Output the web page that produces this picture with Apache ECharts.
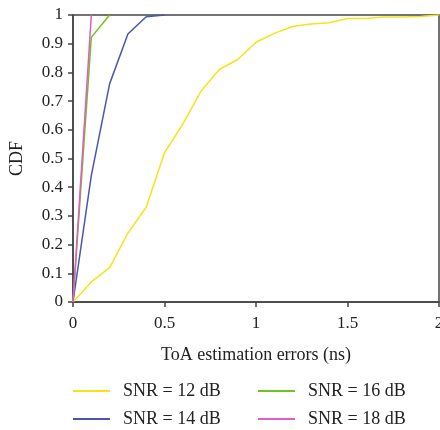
<!DOCTYPE html>
<html>
<head>
<meta charset="utf-8">
<script src="https://cdn.jsdelivr.net/npm/echarts@6/dist/echarts.min.js"></script>
<style>
  html, body { margin: 0; padding: 0; background: #fff; }
  #main { width: 440px; height: 430px; }
</style>
</head>
<body>
<div id="main"></div>
<script>
// ToA errors (ns) vs CDF
const snr12 = [[0, 0], [0.1, 0.07], [0.2, 0.12], [0.3, 0.24], [0.4, 0.33], [0.5, 0.52], [0.6, 0.62],
  [0.7, 0.735], [0.8, 0.81], [0.9, 0.845], [1.0, 0.905], [1.1, 0.936], [1.2, 0.96], [1.3, 0.969],
  [1.4, 0.973], [1.5, 0.988], [1.6, 0.988], [1.7, 0.993], [1.8, 0.993], [1.9, 0.995], [2.0, 1]];
const snr14 = [[0, 0], [0.1, 0.44], [0.2, 0.76], [0.3, 0.934], [0.4, 0.994], [0.5, 1]];
const snr16 = [[0, 0], [0.1, 0.922], [0.2, 1]];
const snr18 = [[0, 0], [0.1, 1]];
const names = ["SNR = 12 dB", "SNR = 14 dB", "SNR = 16 dB", "SNR = 18 dB"];
const colors = ["#f7e31a", "#4b55b3", "#6ec41c", "#de5fc4"];

const font = "'Liberation Serif', 'DejaVu Serif', serif";
const chart = echarts.init(document.getElementById("main"));

function line(name, data, color) {
    return {
        name: name,
        type: "line",
        data: data,
        symbol: "none",
        color: color,
        lineStyle: { width: 1.5, color: color }
    };
}

// one legend per entry, placed in a 2x2 layout
const legendPos = [[73, 382], [73, 410], [258, 382], [258, 410]];
const legends = names.map((n, i) => ({
    data: [n], left: legendPos[i][0], top: legendPos[i][1], padding: 0,
    itemWidth: 37, itemHeight: 2, icon: "rect",
    textStyle: { fontFamily: font, fontSize: 18, color: "#222", padding: [0, 0, 0, 8] }
}));

chart.setOption({
    animation: false,
    grid: {
        left: 73, right: 1, top: 15, bottom: 128,
        outerBoundsMode: "none", containLabel: false,
        show: true, borderColor: "#444", borderWidth: 1.5, backgroundColor: "transparent"
    },
    xAxis: {
        type: "value", min: 0, max: 2, interval: 0.5,
        name: "ToA estimation errors (ns)", nameLocation: "middle", nameGap: 44,
        nameTextStyle: { fontFamily: font, fontSize: 18, color: "#222" },
        axisLine: { lineStyle: { color: "#444", width: 1.5 } },
        axisTick: { show: true, length: 5, lineStyle: { color: "#444", width: 1.5 } },
        axisLabel: { fontFamily: font, fontSize: 17, color: "#222", margin: 13 },
        splitLine: { show: false }
    },
    yAxis: {
        type: "value", min: 0, max: 1, interval: 0.1,
        name: "CDF", nameLocation: "middle", nameGap: 47,
        nameTextStyle: { fontFamily: font, fontSize: 18, color: "#222" },
        axisLine: { show: true, lineStyle: { color: "#444", width: 1.5 } },
        axisTick: { show: true, length: 5, lineStyle: { color: "#444", width: 1.5 } },
        axisLabel: { fontFamily: font, fontSize: 17, color: "#222", margin: 10,
            formatter: v => String(Math.round(v * 10) / 10) },
        splitLine: { show: false }
    },
    legend: legends,
    series: [
        line(names[0], snr12, colors[0]),
        line(names[1], snr14, colors[1]),
        line(names[2], snr16, colors[2]),
        line(names[3], snr18, colors[3])
    ]
});
</script>
</body>
</html>
